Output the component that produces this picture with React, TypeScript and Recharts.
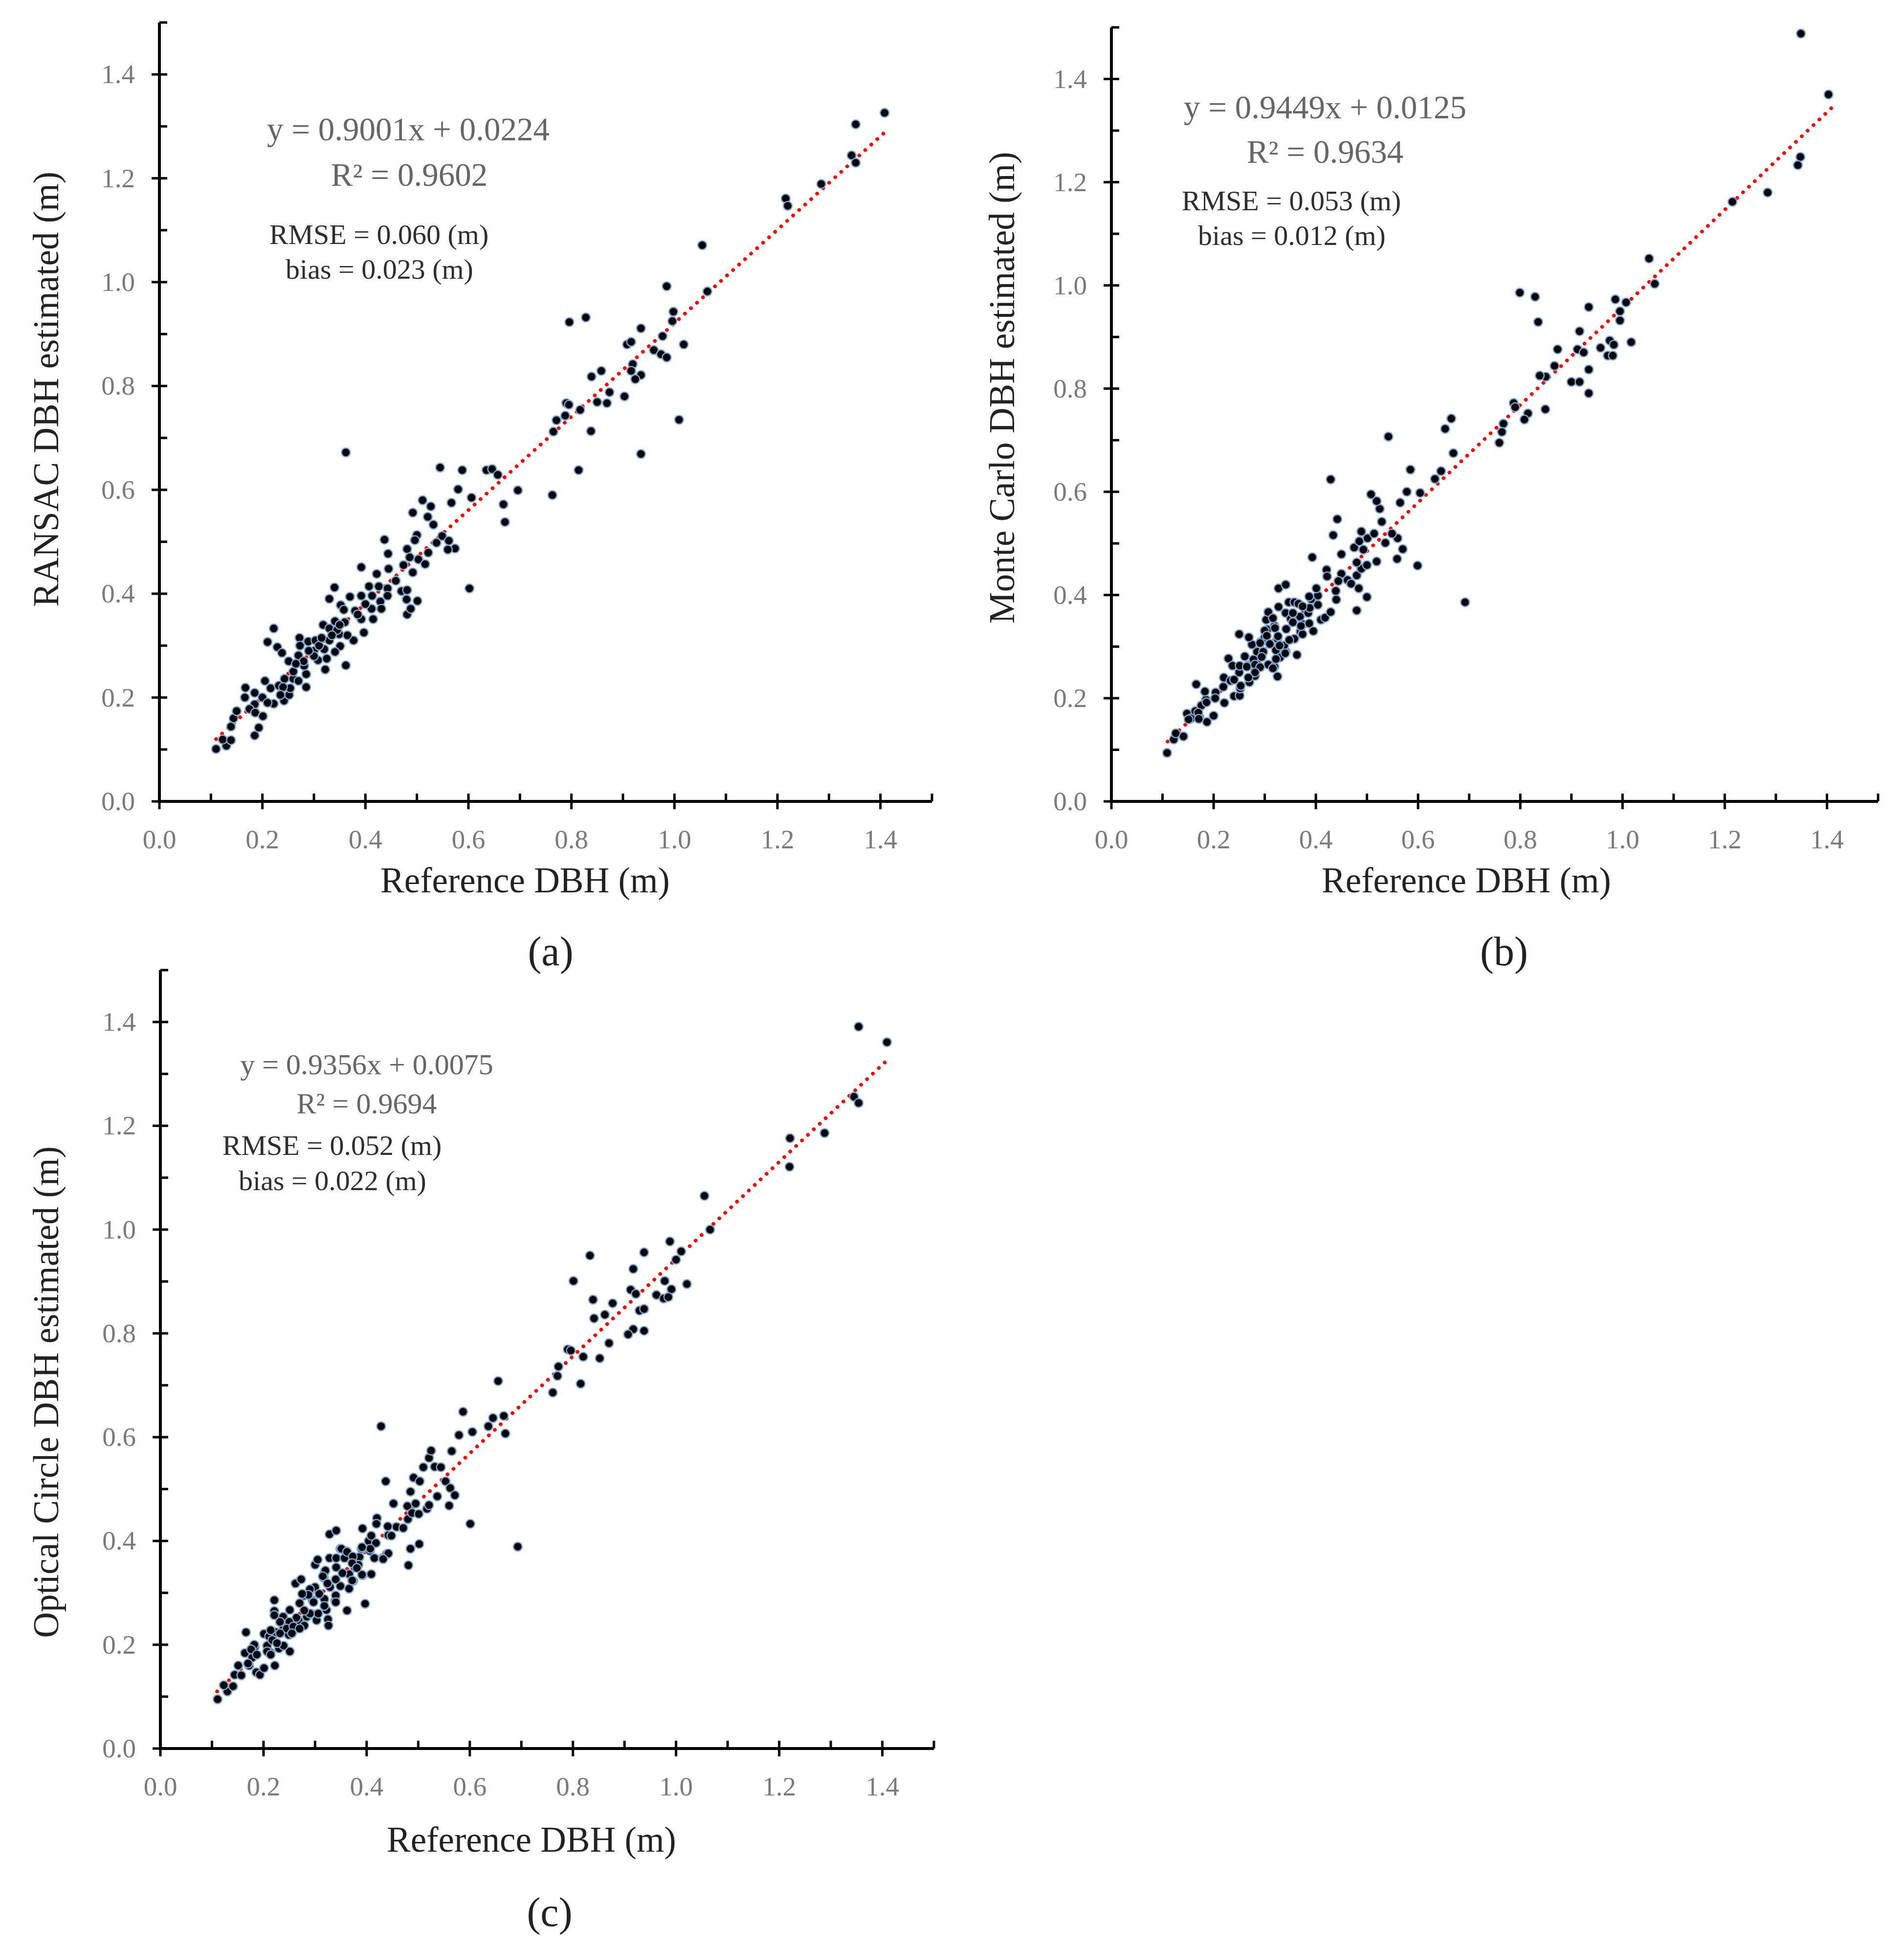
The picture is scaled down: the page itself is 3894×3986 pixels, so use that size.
import { ScatterChart, Scatter, XAxis, YAxis, ReferenceLine } from "recharts";

const axisTicks = [0, 0.1, 0.2, 0.3, 0.4, 0.5, 0.6, 0.7, 0.8, 0.9, 1.0, 1.1, 1.2, 1.3, 1.4, 1.5];

// [reference DBH, estimated DBH] in metres
const ransacPoints: [number, number][] = [
  [0.11, 0.101], [0.13, 0.107], [0.123, 0.119], [0.139, 0.118], [0.139, 0.144], [0.144, 0.16],
  [0.15, 0.174], [0.167, 0.219], [0.166, 0.2], [0.185, 0.209], [0.185, 0.187], [0.175, 0.178],
  [0.186, 0.171], [0.201, 0.164], [0.193, 0.142], [0.185, 0.127], [0.205, 0.232], [0.21, 0.307],
  [0.222, 0.333], [0.222, 0.188], [0.216, 0.218], [0.229, 0.297], [0.238, 0.286], [0.242, 0.194],
  [0.252, 0.205], [0.254, 0.218], [0.232, 0.223], [0.243, 0.236], [0.251, 0.27], [0.26, 0.236],
  [0.27, 0.232], [0.285, 0.22], [0.285, 0.245], [0.272, 0.315], [0.273, 0.3], [0.27, 0.281],
  [0.281, 0.261], [0.289, 0.308], [0.303, 0.31], [0.308, 0.272], [0.322, 0.254], [0.325, 0.275],
  [0.32, 0.293], [0.318, 0.34], [0.33, 0.333], [0.341, 0.347], [0.34, 0.412], [0.33, 0.39],
  [0.352, 0.378], [0.358, 0.369], [0.349, 0.322], [0.351, 0.299], [0.341, 0.288], [0.362, 0.262],
  [0.377, 0.31], [0.37, 0.394], [0.38, 0.367], [0.392, 0.396], [0.392, 0.351], [0.392, 0.451],
  [0.397, 0.325], [0.407, 0.414], [0.413, 0.396], [0.412, 0.371], [0.415, 0.351], [0.422, 0.438],
  [0.426, 0.414], [0.429, 0.385], [0.431, 0.371], [0.437, 0.504], [0.444, 0.477], [0.445, 0.448],
  [0.443, 0.41], [0.443, 0.396], [0.459, 0.425], [0.47, 0.405], [0.481, 0.407], [0.48, 0.389],
  [0.481, 0.36], [0.488, 0.371], [0.501, 0.386], [0.474, 0.455], [0.481, 0.486], [0.492, 0.441],
  [0.492, 0.556], [0.5, 0.513], [0.496, 0.503], [0.486, 0.47], [0.503, 0.466], [0.516, 0.457],
  [0.522, 0.479], [0.511, 0.58], [0.527, 0.568], [0.521, 0.548], [0.532, 0.533], [0.545, 0.643],
  [0.538, 0.498], [0.549, 0.511], [0.562, 0.502], [0.574, 0.487], [0.56, 0.485], [0.567, 0.575],
  [0.58, 0.601], [0.588, 0.638], [0.606, 0.585], [0.602, 0.41], [0.635, 0.638], [0.646, 0.64],
  [0.657, 0.629], [0.668, 0.572], [0.671, 0.538], [0.696, 0.599], [0.763, 0.59], [0.814, 0.638],
  [0.362, 0.672],
  [0.26, 0.25], [0.28, 0.27], [0.3, 0.29], [0.31, 0.3], [0.33, 0.31], [0.345, 0.33], [0.36, 0.345],
  [0.365, 0.32], [0.385, 0.36], [0.4, 0.38], [0.3, 0.28], [0.29, 0.29], [0.24, 0.22], [0.2, 0.2],
  [0.21, 0.19], [0.235, 0.205], [0.265, 0.265], [0.315, 0.315], [0.335, 0.32], [0.35, 0.34],
  [1.408, 1.326], [1.352, 1.304], [1.344, 1.244], [1.352, 1.23], [1.285, 1.189], [1.216, 1.161],
  [1.22, 1.147], [1.054, 1.071], [0.985, 0.992], [1.064, 0.982], [0.998, 0.943], [0.996, 0.925],
  [0.796, 0.923], [0.828, 0.932], [0.935, 0.911], [0.977, 0.896], [0.908, 0.88], [0.916, 0.885],
  [1.018, 0.88], [0.96, 0.869], [0.974, 0.861], [0.985, 0.855], [0.919, 0.842], [0.916, 0.829],
  [0.935, 0.821], [0.924, 0.813], [0.858, 0.829], [0.839, 0.818], [0.874, 0.788], [0.903, 0.78],
  [0.85, 0.769], [0.869, 0.767], [0.79, 0.767], [0.795, 0.764], [0.817, 0.754], [0.788, 0.743],
  [0.771, 0.734], [0.765, 0.712], [0.838, 0.713], [1.009, 0.735], [0.935, 0.669],
];

const monteCarloPoints: [number, number][] = [
  [0.109, 0.094], [0.122, 0.12], [0.126, 0.132], [0.141, 0.126], [0.148, 0.17], [0.156, 0.161],
  [0.166, 0.227], [0.164, 0.175], [0.172, 0.164], [0.176, 0.186], [0.187, 0.154], [0.185, 0.197],
  [0.183, 0.213], [0.2, 0.166], [0.204, 0.211], [0.203, 0.2], [0.221, 0.191], [0.22, 0.24],
  [0.219, 0.222], [0.229, 0.277], [0.237, 0.263], [0.24, 0.204], [0.251, 0.205], [0.252, 0.219],
  [0.233, 0.234], [0.25, 0.25], [0.25, 0.324], [0.261, 0.281], [0.267, 0.263], [0.27, 0.231],
  [0.281, 0.243], [0.275, 0.304], [0.289, 0.293], [0.284, 0.272], [0.292, 0.309], [0.307, 0.265],
  [0.319, 0.261], [0.325, 0.242], [0.3, 0.318], [0.305, 0.333], [0.303, 0.352], [0.307, 0.367],
  [0.325, 0.315], [0.322, 0.293], [0.33, 0.279], [0.341, 0.29], [0.338, 0.302], [0.319, 0.34],
  [0.327, 0.377], [0.341, 0.365], [0.327, 0.413], [0.341, 0.42], [0.347, 0.386], [0.358, 0.386],
  [0.366, 0.383], [0.351, 0.354], [0.363, 0.284], [0.37, 0.329], [0.374, 0.324], [0.358, 0.315],
  [0.369, 0.358], [0.385, 0.365], [0.374, 0.343], [0.387, 0.345], [0.395, 0.33], [0.391, 0.392],
  [0.404, 0.399], [0.401, 0.413], [0.41, 0.352], [0.418, 0.356], [0.429, 0.367], [0.421, 0.449],
  [0.422, 0.436], [0.439, 0.408], [0.44, 0.391], [0.429, 0.624], [0.434, 0.516], [0.442, 0.547],
  [0.45, 0.479], [0.45, 0.441], [0.462, 0.429], [0.469, 0.422], [0.48, 0.438], [0.48, 0.37],
  [0.484, 0.413], [0.5, 0.396], [0.475, 0.492], [0.485, 0.504], [0.493, 0.488], [0.489, 0.451],
  [0.5, 0.458], [0.48, 0.463], [0.489, 0.523], [0.501, 0.51], [0.514, 0.519], [0.519, 0.465],
  [0.529, 0.542], [0.559, 0.47], [0.57, 0.489], [0.56, 0.51], [0.549, 0.519], [0.536, 0.501],
  [0.525, 0.567], [0.519, 0.582], [0.508, 0.595], [0.565, 0.579], [0.578, 0.6], [0.599, 0.457],
  [0.585, 0.643], [0.604, 0.598], [0.633, 0.625], [0.645, 0.64], [0.669, 0.675], [0.692, 0.386],
  [0.759, 0.695], [0.393, 0.473],
  [0.444, 0.427], [0.387, 0.397], [0.404, 0.381], [0.388, 0.375], [0.374, 0.378], [0.355, 0.365],
  [0.316, 0.355], [0.355, 0.347], [0.371, 0.34], [0.3, 0.331], [0.32, 0.336], [0.342, 0.334],
  [0.269, 0.318], [0.304, 0.321], [0.326, 0.32], [0.348, 0.313], [0.291, 0.307], [0.31, 0.305],
  [0.329, 0.302], [0.285, 0.29], [0.297, 0.29], [0.34, 0.287], [0.278, 0.275], [0.294, 0.28],
  [0.316, 0.258], [0.322, 0.276], [0.251, 0.263], [0.265, 0.261], [0.281, 0.265], [0.291, 0.26],
  [0.281, 0.25], [0.268, 0.24], [0.24, 0.236], [0.253, 0.224], [0.186, 0.192], [0.17, 0.172],
  [0.171, 0.16], [0.151, 0.159],
  [1.349, 1.488], [1.403, 1.37], [1.348, 1.249], [1.343, 1.233], [1.284, 1.18], [1.215, 1.162],
  [1.052, 1.052], [1.063, 1.003], [0.799, 0.986], [0.829, 0.978], [0.835, 0.929], [0.934, 0.958],
  [0.986, 0.973], [1.007, 0.967], [0.995, 0.95], [0.995, 0.932], [0.916, 0.911], [0.912, 0.876],
  [0.924, 0.87], [0.957, 0.879], [0.975, 0.893], [0.983, 0.885], [0.971, 0.864], [0.981, 0.864],
  [1.017, 0.89], [0.873, 0.876], [0.867, 0.844], [0.85, 0.823], [0.838, 0.825], [0.934, 0.837],
  [0.9, 0.813], [0.916, 0.813], [0.934, 0.791], [0.787, 0.772], [0.79, 0.764], [0.815, 0.752],
  [0.808, 0.74], [0.849, 0.76], [0.767, 0.732], [0.764, 0.716], [0.665, 0.742], [0.653, 0.722],
  [0.542, 0.707],
];

const opticalPoints: [number, number][] = [
  [0.111, 0.095], [0.13, 0.11], [0.123, 0.122], [0.141, 0.12], [0.144, 0.142], [0.151, 0.16],
  [0.157, 0.141], [0.164, 0.184], [0.166, 0.224], [0.172, 0.16], [0.178, 0.175], [0.183, 0.196],
  [0.186, 0.147], [0.193, 0.142], [0.201, 0.155], [0.201, 0.221], [0.211, 0.216], [0.213, 0.185],
  [0.207, 0.198], [0.221, 0.286], [0.221, 0.265], [0.221, 0.257], [0.224, 0.224], [0.222, 0.16],
  [0.23, 0.193], [0.239, 0.198], [0.251, 0.187], [0.238, 0.254], [0.238, 0.237], [0.251, 0.267],
  [0.249, 0.219], [0.257, 0.226], [0.262, 0.318], [0.273, 0.326], [0.27, 0.28], [0.268, 0.247],
  [0.279, 0.237], [0.284, 0.254], [0.279, 0.295], [0.289, 0.303], [0.3, 0.311], [0.292, 0.26],
  [0.303, 0.247], [0.306, 0.26], [0.295, 0.285], [0.318, 0.288], [0.322, 0.267], [0.325, 0.249],
  [0.326, 0.237], [0.3, 0.354], [0.305, 0.364], [0.317, 0.329], [0.319, 0.341], [0.328, 0.367],
  [0.329, 0.311], [0.341, 0.367], [0.341, 0.349], [0.339, 0.285], [0.34, 0.295], [0.349, 0.385],
  [0.349, 0.313], [0.362, 0.266], [0.361, 0.38], [0.357, 0.367], [0.366, 0.336], [0.366, 0.308],
  [0.374, 0.323], [0.377, 0.349], [0.386, 0.369], [0.392, 0.334], [0.397, 0.279], [0.409, 0.336],
  [0.39, 0.385], [0.392, 0.424], [0.404, 0.4], [0.409, 0.41], [0.415, 0.367], [0.406, 0.381],
  [0.42, 0.444], [0.419, 0.433], [0.428, 0.621], [0.431, 0.367], [0.439, 0.375], [0.442, 0.411],
  [0.441, 0.428], [0.452, 0.472], [0.437, 0.515], [0.458, 0.427], [0.471, 0.425], [0.481, 0.353],
  [0.485, 0.385], [0.502, 0.394], [0.48, 0.442], [0.479, 0.467], [0.495, 0.472], [0.488, 0.454],
  [0.501, 0.452], [0.485, 0.495], [0.491, 0.522], [0.503, 0.515], [0.517, 0.462], [0.521, 0.469],
  [0.51, 0.542], [0.521, 0.56], [0.525, 0.574], [0.532, 0.543], [0.537, 0.486], [0.544, 0.542],
  [0.553, 0.515], [0.562, 0.502], [0.571, 0.488], [0.56, 0.468], [0.565, 0.573], [0.579, 0.604],
  [0.587, 0.649], [0.605, 0.61], [0.601, 0.433], [0.636, 0.621], [0.645, 0.637], [0.666, 0.641],
  [0.669, 0.607], [0.655, 0.708], [0.693, 0.389], [0.761, 0.686], [0.77, 0.718], [0.772, 0.736],
  [0.815, 0.703], [0.79, 0.769], [0.796, 0.767], [0.82, 0.755],
  [0.328, 0.413], [0.341, 0.42], [0.448, 0.41], [0.418, 0.396], [0.407, 0.385], [0.442, 0.376],
  [0.432, 0.365], [0.391, 0.388], [0.391, 0.335], [0.351, 0.385], [0.362, 0.379], [0.373, 0.37],
  [0.384, 0.354], [0.372, 0.357], [0.381, 0.348], [0.32, 0.343], [0.315, 0.332], [0.34, 0.326],
  [0.353, 0.338], [0.372, 0.324], [0.34, 0.282], [0.324, 0.318], [0.308, 0.298], [0.29, 0.307],
  [0.287, 0.296], [0.275, 0.298], [0.297, 0.282], [0.318, 0.275], [0.29, 0.26], [0.279, 0.266],
  [0.264, 0.252], [0.25, 0.244], [0.232, 0.244], [0.245, 0.231], [0.258, 0.235], [0.27, 0.231],
  [0.255, 0.222], [0.232, 0.222], [0.217, 0.209], [0.214, 0.228], [0.226, 0.203], [0.207, 0.187],
  [0.214, 0.181], [0.182, 0.2], [0.176, 0.191], [0.187, 0.181], [0.17, 0.164],
  [1.354, 1.391], [1.409, 1.361], [1.345, 1.256], [1.354, 1.244], [1.288, 1.186], [1.221, 1.176],
  [1.22, 1.121], [1.055, 1.065], [1.066, 1.0], [0.988, 0.977], [0.938, 0.956], [1.01, 0.958],
  [1.0, 0.942], [0.833, 0.95], [0.917, 0.924], [0.801, 0.901], [0.978, 0.901], [0.991, 0.885],
  [1.021, 0.895], [0.912, 0.884], [0.922, 0.876], [0.962, 0.874], [0.976, 0.867], [0.985, 0.87],
  [0.839, 0.865], [0.877, 0.858], [0.929, 0.844], [0.938, 0.847], [0.841, 0.829], [0.862, 0.836],
  [0.938, 0.805], [0.917, 0.808], [0.907, 0.798], [0.87, 0.781], [0.852, 0.752],
];

// trendline ends
const ransacTrend: [number, number][] = [[0.11, 0.12], [1.41, 1.29]];
const monteCarloTrend: [number, number][] = [[0.11, 0.116], [1.41, 1.345]];
const opticalTrend: [number, number][] = [[0.11, 0.11], [1.41, 1.327]];

const FONT = '"Liberation Serif", "Times New Roman", serif';

const XTick = ({ x, y, payload }: any) => {
  const v = payload.value as number;
  const major = Math.round(v * 10) % 2 === 0;
  return (
    <g>
      <line x1={x} x2={x} y1={y - 16} y2={major ? y + 16 : y} stroke="#000" strokeWidth={5} />
      {major && (
        <text x={x} y={y + 96} textAnchor="middle" fontFamily={FONT} fontSize={55} fill="#7a7a7a">
          {v.toFixed(1)}
        </text>
      )}
    </g>
  );
};

const YTick = ({ x, y, payload }: any) => {
  const v = payload.value as number;
  const major = Math.round(v * 10) % 2 === 0;
  return (
    <g>
      <line x1={major ? x - 16 : x} x2={x + 16} y1={y} y2={y} stroke="#000" strokeWidth={5} />
      {major && (
        <text x={x - 50} y={y + 18} textAnchor="end" fontFamily={FONT} fontSize={55} fill="#7a7a7a">
          {v.toFixed(1)}
        </text>
      )}
    </g>
  );
};

const Dot = (props: any) => (
  <circle cx={props.cx} cy={props.cy} r={9} fill="#030303" stroke="#7fa8d8" strokeWidth={2.5} />
);

interface PanelProps {
  points: [number, number][];
  trend: [number, number][];
  left: number;
  top: number;
  width: number;
  height: number;
  margin: { top: number; right: number; bottom: number; left: number };
}

function Panel({ points, trend, left, top, width, height, margin }: PanelProps) {
  const data = points.map(([x, y]) => ({ x, y }));
  return (
    <div style={{ position: "absolute", left, top }}>
      <ScatterChart width={width} height={height} margin={margin}>
        <XAxis
          type="number"
          dataKey="x"
          domain={[0, 1.5]}
          ticks={axisTicks}
          interval={0}
          tick={(p: any) => <XTick {...p} />}
          tickSize={0}
          tickMargin={0}
          tickLine={false}
          axisLine={{ stroke: "#000", strokeWidth: 6 }}
          height={100}
          allowDataOverflow
        />
        <YAxis
          type="number"
          dataKey="y"
          domain={[0, 1.5]}
          ticks={axisTicks}
          interval={0}
          tick={(p: any) => <YTick {...p} />}
          tickSize={0}
          tickMargin={0}
          tickLine={false}
          axisLine={{ stroke: "#000", strokeWidth: 6 }}
          width={200}
          allowDataOverflow
        />
        <Scatter data={data} isAnimationActive={false} shape={Dot} />
        <ReferenceLine
          segment={[
            { x: trend[0][0], y: trend[0][1] },
            { x: trend[1][0], y: trend[1][1] },
          ]}
          stroke="#ff0000"
          strokeWidth={7.5}
          strokeDasharray="0.1 16.5"
          strokeLinecap="round"
        />
      </ScatterChart>
    </div>
  );
}

const eqColor = "#666666";
const statColor = "#2e2e2e";
const titleColor = "#222222";

export default function App() {
  return (
    <div style={{ position: "relative", width: 3894, height: 3986, background: "#fff" }}>
      <style>{`body{margin:0}`}</style>
      <Panel
        points={ransacPoints}
        trend={ransacTrend}
        left={0}
        top={0}
        width={1950}
        height={1760}
        margin={{ top: 46, right: 44, bottom: 21, left: 126 }}
      />
      <Panel
        points={monteCarloPoints}
        trend={monteCarloTrend}
        left={1950}
        top={0}
        width={1944}
        height={1760}
        margin={{ top: 56, right: 53, bottom: 21, left: 123 }}
      />
      <Panel
        points={opticalPoints}
        trend={opticalTrend}
        left={0}
        top={1950}
        width={1950}
        height={1760}
        margin={{ top: 34, right: 40, bottom: 34, left: 128 }}
      />
      <svg
        width={3894}
        height={3986}
        style={{ position: "absolute", left: 0, top: 0, pointerEvents: "none" }}
        fontFamily={FONT}
      >
        {/* panel (a) */}
        <text x={835} y={264} fontSize={67} fill={eqColor} textAnchor="middle" dominantBaseline="central">y = 0.9001x + 0.0224</text>
        <text x={837} y={357} fontSize={67} fill={eqColor} textAnchor="middle" dominantBaseline="central">R² = 0.9602</text>
        <text x={775} y={479} fontSize={58} fill={statColor} textAnchor="middle" dominantBaseline="central">RMSE = 0.060 (m)</text>
        <text x={776} y={550} fontSize={58} fill={statColor} textAnchor="middle" dominantBaseline="central">bias = 0.023 (m)</text>
        <text x={1074} y={1800} fontSize={73} fill={titleColor} textAnchor="middle" dominantBaseline="central">Reference DBH (m)</text>
        <text x={94} y={796} fontSize={73} fill={titleColor} textAnchor="middle" dominantBaseline="central" transform="rotate(-90 94 796)">RANSAC DBH estimated (m)</text>
        <text x={1126} y={1945} fontSize={84} fill={titleColor} textAnchor="middle" dominantBaseline="central">(a)</text>

        {/* panel (b) */}
        <text x={2710} y={219} fontSize={67} fill={eqColor} textAnchor="middle" dominantBaseline="central">y = 0.9449x + 0.0125</text>
        <text x={2710} y={310} fontSize={67} fill={eqColor} textAnchor="middle" dominantBaseline="central">R² = 0.9634</text>
        <text x={2641} y={410} fontSize={58} fill={statColor} textAnchor="middle" dominantBaseline="central">RMSE = 0.053 (m)</text>
        <text x={2642} y={481} fontSize={58} fill={statColor} textAnchor="middle" dominantBaseline="central">bias = 0.012 (m)</text>
        <text x={2999} y={1800} fontSize={73} fill={titleColor} textAnchor="middle" dominantBaseline="central">Reference DBH (m)</text>
        <text x={2049} y={793} fontSize={73} fill={titleColor} textAnchor="middle" dominantBaseline="central" transform="rotate(-90 2049 793)">Monte Carlo DBH estimated (m)</text>
        <text x={3076} y={1945} fontSize={84} fill={titleColor} textAnchor="middle" dominantBaseline="central">(b)</text>

        {/* panel (c) */}
        <text x={750} y={2177} fontSize={60} fill={eqColor} textAnchor="middle" dominantBaseline="central">y = 0.9356x + 0.0075</text>
        <text x={750} y={2257} fontSize={60} fill={eqColor} textAnchor="middle" dominantBaseline="central">R² = 0.9694</text>
        <text x={679} y={2342} fontSize={58} fill={statColor} textAnchor="middle" dominantBaseline="central">RMSE = 0.052 (m)</text>
        <text x={680} y={2414} fontSize={58} fill={statColor} textAnchor="middle" dominantBaseline="central">bias = 0.022 (m)</text>
        <text x={1087} y={3762} fontSize={73} fill={titleColor} textAnchor="middle" dominantBaseline="central">Reference DBH (m)</text>
        <text x={94} y={2847} fontSize={73} fill={titleColor} textAnchor="middle" dominantBaseline="central" transform="rotate(-90 94 2847)">Optical Circle DBH estimated (m)</text>
        <text x={1124} y={3910} fontSize={84} fill={titleColor} textAnchor="middle" dominantBaseline="central">(c)</text>
      </svg>
    </div>
  );
}
